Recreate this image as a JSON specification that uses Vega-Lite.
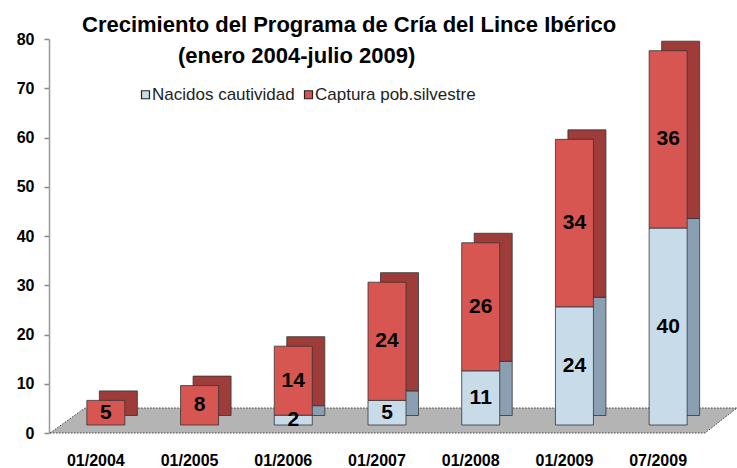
{
  "$schema": "https://vega.github.io/schema/vega-lite/v6.json",
  "width": 656,
  "height": 394,
  "autosize": "none",
  "padding": {"left": 49, "top": 39, "right": 32, "bottom": 35},
  "background": "white",
  "title": {
    "text": ["Crecimiento del Programa de Cría del Lince Ibérico", "\u2800\u2800\u2800\u2800\u2800\u2800(enero 2004-julio 2009)"],
    "anchor": "start",
    "frame": "group",
    "dx": 33,
    "offset": -59,
    "baseline": "bottom",
    "lineHeight": 31,
    "font": "Liberation Sans",
    "fontSize": 22,
    "fontWeight": "bold",
    "color": "#000000"
  },
  "data": {
    "values": [
      {"fecha": "01/2004", "serie": "Nacidos cautividad", "valor": 0},
      {"fecha": "01/2004", "serie": "Captura pob.silvestre", "valor": 5},
      {"fecha": "01/2005", "serie": "Nacidos cautividad", "valor": 0},
      {"fecha": "01/2005", "serie": "Captura pob.silvestre", "valor": 8},
      {"fecha": "01/2006", "serie": "Nacidos cautividad", "valor": 2},
      {"fecha": "01/2006", "serie": "Captura pob.silvestre", "valor": 14},
      {"fecha": "01/2007", "serie": "Nacidos cautividad", "valor": 5},
      {"fecha": "01/2007", "serie": "Captura pob.silvestre", "valor": 24},
      {"fecha": "01/2008", "serie": "Nacidos cautividad", "valor": 11},
      {"fecha": "01/2008", "serie": "Captura pob.silvestre", "valor": 26},
      {"fecha": "01/2009", "serie": "Nacidos cautividad", "valor": 24},
      {"fecha": "01/2009", "serie": "Captura pob.silvestre", "valor": 34},
      {"fecha": "07/2009", "serie": "Nacidos cautividad", "valor": 40},
      {"fecha": "07/2009", "serie": "Captura pob.silvestre", "valor": 36}
    ]
  },
  "transform": [{"filter": "datum.valor > 0"}],
  "layer": [
    {
      "data": {"values": [{}]},
      "transform": [],
      "mark": {
        "type": "point",
        "shape": "M -327 0 L 328 0 L 360 -25 L -292 -25 Z",
        "size": 4,
        "filled": true,
        "fill": "#b4b4b4",
        "fillOpacity": 1,
        "stroke": "#444444",
        "strokeWidth": 1,
        "strokeDash": [1.5, 1.5],
        "opacity": 1
      },
      "encoding": {
        "x": {"datum": "01/2007", "type": "nominal"},
        "y": {"datum": 0, "type": "quantitative"}
      }
    },
    {
      "mark": {
        "type": "bar",
        "width": 38,
        "xOffset": 22.5,
        "yOffset": -17.5,
        "stroke": "#333333",
        "strokeWidth": 0.8
      },
      "encoding": {
        "x": {"field": "fecha", "type": "nominal"},
        "y": {"field": "valor", "type": "quantitative", "stack": "zero"},
        "order": {"field": "serie", "sort": "descending"},
        "fill": {
          "condition": {"test": "datum.serie === 'Nacidos cautividad'", "value": "#8b9fb3"},
          "value": "#9e3c39"
        }
      }
    },
    {
      "mark": {
        "type": "bar",
        "width": 38,
        "xOffset": 10,
        "yOffset": -8,
        "stroke": "#333333",
        "strokeWidth": 0.8
      },
      "encoding": {
        "x": {"field": "fecha", "type": "nominal"},
        "y": {"field": "valor", "type": "quantitative", "stack": "zero"},
        "order": {"field": "serie", "sort": "descending"},
        "color": {
          "field": "serie",
          "type": "nominal",
          "scale": {
            "domain": ["Nacidos cautividad", "Captura pob.silvestre"],
            "range": ["#c8dbe8", "#d85652"]
          },
          "legend": {
            "orient": "none",
            "legendX": 88,
            "legendY": 47,
            "direction": "horizontal",
            "title": null,
            "symbolType": "square",
            "symbolSize": 64,
            "symbolStrokeColor": "#222222",
            "symbolStrokeWidth": 1.2,
            "symbolOpacity": 1,
            "labelFont": "Liberation Sans",
            "labelFontSize": 17,
            "labelColor": "#222222",
            "labelOffset": -2,
            "columnPadding": 5,
            "labelLimit": 300
          }
        }
      }
    },
    {
      "transform": [
        {"stack": "valor", "groupby": ["fecha"], "sort": [{"field": "serie", "order": "descending"}], "as": ["v0", "v1"]},
        {"calculate": "(datum.v0 + datum.v1) / 2", "as": "medio"}
      ],
      "mark": {
        "type": "text",
        "xOffset": 10,
        "yOffset": -8,
        "baseline": "middle",
        "align": "center",
        "font": "Liberation Sans",
        "fontSize": 21,
        "fontWeight": "bold",
        "color": "#000000"
      },
      "encoding": {
        "x": {"field": "fecha", "type": "nominal"},
        "y": {"field": "medio", "type": "quantitative"},
        "text": {"field": "valor", "type": "quantitative"}
      }
    }
  ],
  "encoding": {},
  "resolve": {"scale": {"y": "shared", "x": "shared"}},
  "config": {
    "view": {"stroke": null},
    "scale": {"bandPaddingInner": 0.5, "bandPaddingOuter": 0.25},
    "axisX": {
      "title": null,
      "labelAngle": 0,
      "ticks": false,
      "domain": false,
      "labelFont": "Liberation Sans",
      "labelFontSize": 16,
      "labelFontWeight": "bold",
      "labelColor": "#000000",
      "labelPadding": 19
    },
    "axisY": {
      "title": null,
      "grid": false,
      "values": [0, 10, 20, 30, 40, 50, 60, 70, 80],
      "domainColor": "#999999",
      "domainWidth": 1.5,
      "tickColor": "#888888",
      "tickSize": 5,
      "tickWidth": 1.5,
      "labelFont": "Liberation Sans",
      "labelFontSize": 16,
      "labelFontWeight": "bold",
      "labelColor": "#000000",
      "labelPadding": 10
    }
  }
}
